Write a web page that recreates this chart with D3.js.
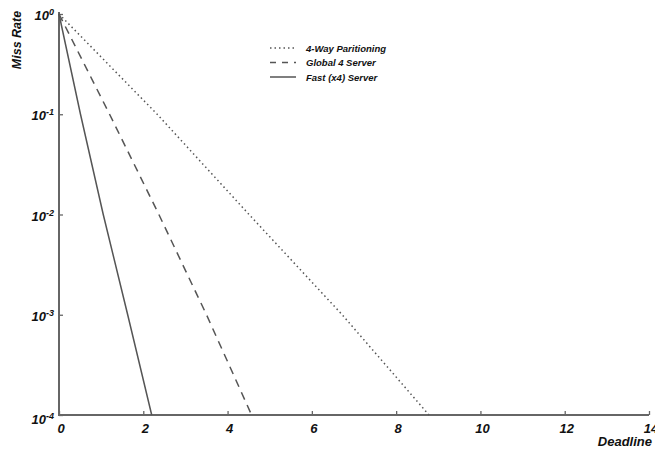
<!doctype html>
<html lang="en">
<head>
    <meta charset="utf-8">
    <title>Miss Rate vs Deadline</title>
    <style type="text/css">
        html, body {
            margin: 0;
            width: 100%;
            height: 100%;
            background-color: #fff;
            overflow: hidden;
        }
        text {
            font-family: "Liberation Sans", Arial, sans-serif;
            font-weight: bold;
            font-style: italic;
            fill: #111;
        }
    </style>
</head>
<body>
    <svg id="chart" width="655" height="449"></svg>

    <script src="https://cdn.jsdelivr.net/npm/d3@7"></script>
    <script>
        // values
        const xTicks = [0, 2, 4, 6, 8, 10, 12, 14];
        const yTicks = [1, 1e-1, 1e-2, 1e-3, 1e-4];
        const yExponents = ["0", "-1", "-2", "-3", "-4"];
        const seriesNames = ["4-Way Paritioning", "Global 4 Server", "Fast (x4) Server"];
        const fourWay = [[0, 1], [2.33, 1e-1], [4.51, 1e-2], [6.72, 1e-3], [8.78, 1e-4]];
        const global4 = [[0, 1], [1.2, 1e-1], [2.37, 1e-2], [3.5, 1e-3], [4.57, 1e-4]];
        const fast4 = [[0, 1], [0.51, 1e-1], [1.05, 1e-2], [1.63, 1e-3], [2.2, 1e-4]];

        const svg = d3.select("#chart");
        const axisColor = "#666";
        const lineColor = "#555";

        let x = d3.scaleLinear().domain([0, 14]).range([59, 649]);
        let y = d3.scaleLog().domain([1e-4, 1]).range([415, 14]);

        // y axis
        let yAxis = svg.append("g")
            .attr("transform", "translate(" + x(0) + ",0)")
            .call(d3.axisRight(y).tickValues(yTicks).tickSize(4).tickFormat(""));
        yAxis.select(".domain").remove();
        yAxis.selectAll("line").attr("stroke", axisColor).attr("stroke-width", 1.3);

        // x axis
        let xAxis = svg.append("g")
            .attr("transform", "translate(0," + y(1e-4) + ")")
            .call(d3.axisTop(x).tickValues(xTicks).tickSize(4).tickFormat(""));
        xAxis.select(".domain").remove();
        xAxis.selectAll("line").attr("stroke", axisColor).attr("stroke-width", 1.3);

        svg.append("line")
            .attr("x1", x(0)).attr("x2", x(0))
            .attr("y1", y(1) - 2).attr("y2", y(1e-4) + 1)
            .attr("stroke", axisColor).attr("stroke-width", 2);
        svg.append("line")
            .attr("x1", x(0) - 1).attr("x2", x(14))
            .attr("y1", y(1e-4)).attr("y2", y(1e-4))
            .attr("stroke", axisColor).attr("stroke-width", 2);

        // tick labels
        svg.selectAll(".xlab")
            .data(xTicks)
            .enter().append("text")
            .attr("class", "xlab")
            .attr("x", d => x(d) + 2)
            .attr("y", 433)
            .attr("text-anchor", "middle")
            .attr("font-size", 13)
            .text(d => d);

        let ylab = svg.selectAll(".ylab")
            .data(yTicks)
            .enter().append("text")
            .attr("class", "ylab")
            .attr("x", 54)
            .attr("y", (d, i) => y(d) + (i == 4 ? 9 : 6))
            .attr("text-anchor", "end")
            .attr("font-size", 13);
        ylab.append("tspan").text("10");
        ylab.append("tspan")
            .attr("font-size", 9)
            .attr("dy", -5)
            .text((d, i) => yExponents[i]);

        // axis titles
        svg.append("text")
            .attr("transform", "translate(21,40) rotate(-90)")
            .attr("text-anchor", "middle")
            .attr("font-size", 12.5)
            .text("Miss Rate");
        svg.append("text")
            .attr("x", 652)
            .attr("y", 446)
            .attr("text-anchor", "end")
            .attr("font-size", 13)
            .text("Deadline");

        // series
        let line = d3.line().x(d => x(d[0])).y(d => y(d[1]));
        const series = [
            { data: fourWay, dash: "1.5,3" },
            { data: global4, dash: "8,6" },
            { data: fast4, dash: null }
        ];
        series.forEach(s => {
            svg.append("path")
                .datum(s.data)
                .attr("d", line)
                .attr("fill", "none")
                .attr("stroke", lineColor)
                .attr("stroke-width", 1.5)
                .attr("stroke-dasharray", s.dash);
        });

        // legend
        let legend = svg.append("g").attr("transform", "translate(270,48)");
        series.forEach((s, i) => {
            legend.append("line")
                .attr("x1", 0).attr("x2", 26)
                .attr("y1", i * 14.5).attr("y2", i * 14.5)
                .attr("stroke", lineColor)
                .attr("stroke-width", 1.5)
                .attr("stroke-dasharray", s.dash == "8,6" ? "6,6" : s.dash);
            legend.append("text")
                .attr("x", 36)
                .attr("y", i * 14.5 + 3.5)
                .attr("font-size", 9.5)
                .text(seriesNames[i]);
        });
    </script>
</body>
</html>
